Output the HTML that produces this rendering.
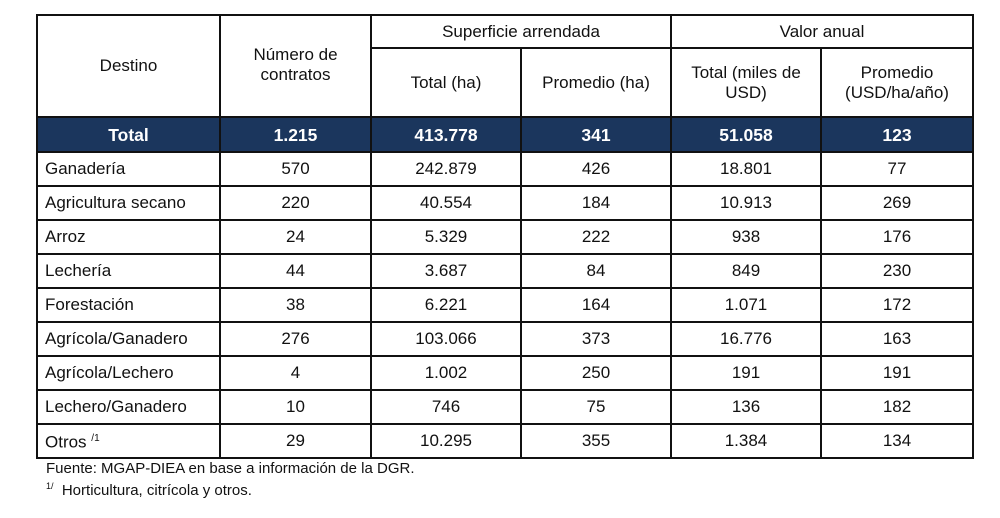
<!DOCTYPE html>
<html><head><meta charset="utf-8"><style>
body{margin:0;background:#fff;width:1000px;height:518px;overflow:hidden;font-family:"Liberation Sans",Arial,sans-serif;color:#111}
table{position:absolute;left:36px;top:14px;border-collapse:collapse;table-layout:fixed}
td{border:2px solid #111;text-align:center;font-size:17px;padding:0;line-height:20px}
tr.r td{height:32px}
td.l{text-align:left;padding-left:7px}
tr.t td{background:#1b365d;color:#fff;font-weight:bold;height:33px;font-size:17.5px}
.f{position:absolute;left:46px;font-size:15px}
</style></head><body>
<table>
<colgroup><col style="width:183px"><col style="width:151px"><col style="width:150px"><col style="width:150px"><col style="width:150px"><col style="width:152px"></colgroup>
<tr><td rowspan="2">Destino</td><td rowspan="2" style="padding-bottom:2px">Número de<br>contratos</td><td colspan="2" style="height:31px">Superficie arrendada</td><td colspan="2">Valor anual</td></tr>
<tr><td style="height:67px">Total (ha)</td><td>Promedio (ha)</td><td>Total (miles de<br>USD)</td><td>Promedio<br>(USD/ha/año)</td></tr>
<tr class="t"><td>Total</td><td>1.215</td><td>413.778</td><td>341</td><td>51.058</td><td>123</td></tr>
<tr class="r"><td class="l">Ganadería</td><td>570</td><td>242.879</td><td>426</td><td>18.801</td><td>77</td></tr>
<tr class="r"><td class="l">Agricultura secano</td><td>220</td><td>40.554</td><td>184</td><td>10.913</td><td>269</td></tr>
<tr class="r"><td class="l">Arroz</td><td>24</td><td>5.329</td><td>222</td><td>938</td><td>176</td></tr>
<tr class="r"><td class="l">Lechería</td><td>44</td><td>3.687</td><td>84</td><td>849</td><td>230</td></tr>
<tr class="r"><td class="l">Forestación</td><td>38</td><td>6.221</td><td>164</td><td>1.071</td><td>172</td></tr>
<tr class="r"><td class="l">Agrícola/Ganadero</td><td>276</td><td>103.066</td><td>373</td><td>16.776</td><td>163</td></tr>
<tr class="r"><td class="l">Agrícola/Lechero</td><td>4</td><td>1.002</td><td>250</td><td>191</td><td>191</td></tr>
<tr class="r"><td class="l">Lechero/Ganadero</td><td>10</td><td>746</td><td>75</td><td>136</td><td>182</td></tr>
<tr class="r"><td class="l">Otros <sup style="font-size:10px">/1</sup></td><td>29</td><td>10.295</td><td>355</td><td>1.384</td><td>134</td></tr>
</table>
<div class="f" style="top:460px">Fuente: MGAP-DIEA en base a información de la DGR.</div>
<div class="f" style="top:481px"><sup style="font-size:9px">1/</sup>&nbsp; Horticultura, citrícola y otros.</div>
</body></html>
